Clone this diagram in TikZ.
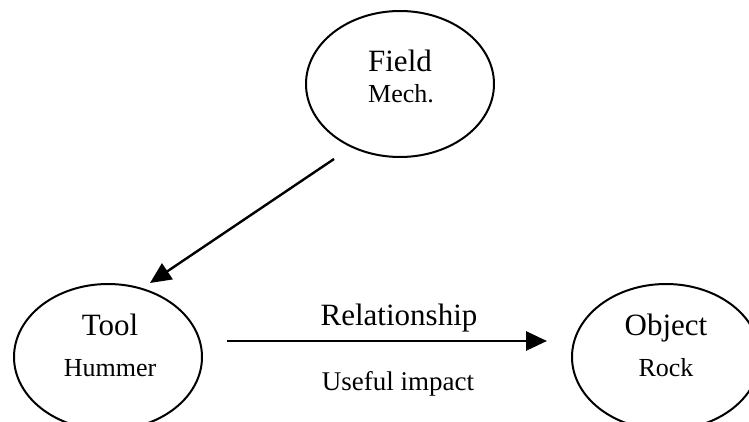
\documentclass[tikz,border=0pt]{standalone}
\usepackage{fontspec}
\setmainfont{Liberation Serif}
\usetikzlibrary{shapes.geometric,arrows.meta}

\tikzset{
  oval/.style={ellipse, draw=black, line width=2pt, minimum width=188pt, minimum height=146pt, inner sep=0pt},
  word/.style={inner sep=0pt, anchor=base},
  link/.style={line width=2.4pt, -{Triangle[length=21pt,width=19pt]}}
}

\begin{document}
\begin{tikzpicture}[x=1pt,y=-1pt]
  \useasboundingbox (0,0) rectangle (749,422);
  \fill[white] (0,0) rectangle (749,422);

  % the three elements
  \node[oval] (field) at (400,84) {};
  \node[oval] (tool) at (108,357) {};
  \node[oval] (object) at (666,357) {};

  \node[word, font=\fontsize{31}{31}\selectfont] (fieldname) at (400,72) {Field};
  \node[word, font=\fontsize{26}{26}\selectfont] (fieldkind) at (401,103) {Mech.};
  \node[word, font=\fontsize{31}{31}\selectfont] (toolname) at (110,335) {Tool};
  \node[word, font=\fontsize{26}{26}\selectfont] (toolkind) at (110,376) {Hummer};
  \node[word, font=\fontsize{31}{31}\selectfont] (objectname) at (666,335) {Object};
  \node[word, font=\fontsize{26}{26}\selectfont] (objectkind) at (666,376) {Rock};

  % connectors
  \coordinate (fieldout) at (334,159);
  \coordinate (toolin) at (150,283);
  \coordinate (toolout) at (227,341);
  \coordinate (objectin) at (547,341);

  \draw[link] (fieldout) -- (toolin);
  \draw[link, line width=2.8pt] (toolout) -- (objectin);

  \node[word, font=\fontsize{31}{31}\selectfont] (rel) at (399,325) {Relationship};
  \node[word, font=\fontsize{27}{27}\selectfont] (effect) at (398,390) {Useful impact};
\end{tikzpicture}
\end{document}
